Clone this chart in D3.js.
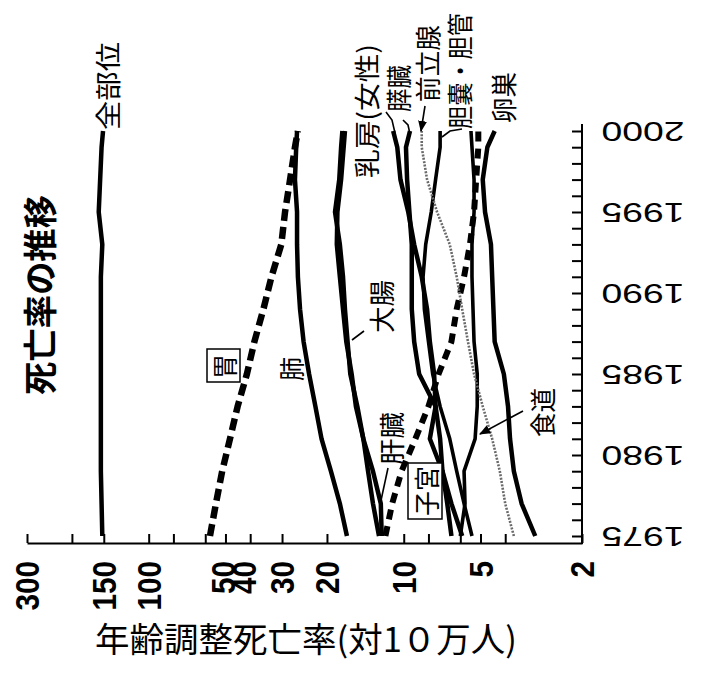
<!DOCTYPE html>
<html>
<head>
<meta charset="utf-8">
<script src="https://cdn.jsdelivr.net/npm/d3@7"></script>
<style>
  body { margin: 0; background: #fff; }
  svg { display: block; }
</style>
</head>
<body>
<div id="chart"></div>
<script>
// 年 (縦方向: 下が1975, 上が2000)
const years = [1975, 1977, 1979, 1981, 1983, 1985, 1987, 1989, 1991, 1993, 1995, 1997, 1999, 2000];

// 年齢調整死亡率 (対10万人) - 図から読み取り
const allSites    = [152, 153, 154, 154, 154, 154, 154, 154, 154, 152, 157, 155, 153, 151];
const stomach     = [57.5, 54.5, 51.5, 48, 44.8, 41.2, 38.5, 35.5, 33.0, 30.2, 29.2, 27.9, 26.7, 26.0];
const lung        = [16.7, 17.8, 19.3, 21.0, 22.2, 23.5, 24.7, 25.5, 26.0, 26.2, 26.2, 26.7, 26.4, 26.2];
const colorectal  = [12.5, 13.2, 13.8, 14.4, 15.2, 16.2, 16.6, 17.0, 17.3, 17.8, 18.6, 17.9, 17.6, 17.4];
const liver       = [12.2, 12.3, 13.2, 14.4, 15.4, 16.0, 16.8, 17.3, 17.8, 18.3, 18.2, 17.6, 17.2, 17.0];
const uterus      = [11.8, 11.1, 10.2, 9.0, 8.0, 7.3, 6.5, 6.2, 5.8, 5.5, 5.3, 5.2, 5.1, 5.1];
const breast      = [5.9, 6.5, 7.05, 7.9, 7.5, 7.6, 7.9, 8.1, 8.5, 9.1, 9.6, 10.3, 10.6, 11.0];
const pancreas    = [6.5, 6.75, 7.05, 7.2, 7.5, 8.7, 9.1, 9.3, 9.3, 9.3, 9.5, 9.7, 9.8, 9.45];
const gallbladder = [5.4, 5.8, 6.2, 6.6, 7.2, 7.7, 8.0, 8.3, 8.4, 8.2, 7.8, 7.5, 7.2, 7.2];
const prostate    = [3.7, 4.0, 4.2, 4.5, 4.9, 5.3, 5.6, 5.9, 6.2, 6.6, 7.4, 8.1, 8.5, 8.5];
const esophagus   = [6.0, 5.75, 5.8, 5.25, 5.15, 5.15, 5.3, 5.35, 5.4, 5.4, 5.3, 5.3, 5.4, 5.45];
const ovary       = [3.05, 3.45, 3.7, 3.83, 3.9, 4.05, 4.4, 4.45, 4.5, 4.55, 4.8, 4.9, 4.7, 4.4];

// 目盛り
const rateTicks  = [300, 200, 150, 100, 80, 60, 50, 40, 30, 20, 10, 8, 6, 5, 4, 2];
const rateLabels = [300, 150, 100, 50, 40, 30, 20, 10, 5, 2];
const yearTicks  = d3.range(1975, 2001);
const yearLabels = [1975, 1980, 1985, 1990, 1995, 2000];

const series = [
  { name: '全部位', values: allSites, kind: 'solid' },
  { name: '胃', values: stomach, kind: 'dash' },
  { name: '肺', values: lung, kind: 'solid' },
  { name: '大腸', values: colorectal, kind: 'solid' },
  { name: '肝臓', values: liver, kind: 'solid' },
  { name: '子宮', values: uterus, kind: 'dash2' },
  { name: '乳房(女性)', values: breast, kind: 'solid' },
  { name: '膵臓', values: pancreas, kind: 'solid' },
  { name: '胆嚢・胆管', values: gallbladder, kind: 'thin' },
  { name: '食道', values: esophagus, kind: 'thin' },
  { name: '卵巣', values: ovary, kind: 'solid' },
  { name: '前立腺', values: prostate, kind: 'dot' }
];

const line_styles = {
  solid: { width: 4.5, dash: null, color: '#000' },
  thin:  { width: 3.6, dash: null, color: '#000' },
  dash:  { width: 6.5, dash: '12,6', color: '#000' },
  dash2: { width: 6, dash: '10,7', color: '#000' },
  dot:   { width: 2.6, dash: '2,1.4', color: '#6a6a6a' }
};

const JP = '"Noto Sans CJK JP", "Noto Sans CJK SC", sans-serif';
const NUM = '"Liberation Sans", Arial, sans-serif';

const svg_width = 705, svg_height = 676;
const svg = d3.select('#chart').append('svg')
  .attr('width', svg_width)
  .attr('height', svg_height);

// scale: 横が死亡率(対数, 左が大), 縦が年
const x_scale = d3.scaleLog().domain([300, 2]).range([27, 582]);
const y_scale = d3.scaleLinear().domain([1975, 2000]).range([536, 131]);
const axis_y = 543;
const axis_x = 582;

// 横軸 (下)
const x_axis = svg.append('g')
  .attr('transform', `translate(0, ${axis_y})`)
  .call(d3.axisBottom(x_scale).tickValues(rateTicks).tickSize(-9).tickSizeOuter(0).tickFormat(''));
x_axis.selectAll('path, line').attr('stroke', '#000').attr('stroke-width', 2);

// 縦軸 (右)
const y_axis = svg.append('g')
  .attr('transform', `translate(${axis_x}, 0)`)
  .call(d3.axisRight(y_scale).tickValues(yearTicks).tickSize(-10).tickSizeOuter(0).tickFormat(''));
y_axis.select('.domain').remove();
y_axis.selectAll('line').attr('stroke', '#000').attr('stroke-width', 2);
svg.append('line')
  .attr('x1', axis_x).attr('x2', axis_x)
  .attr('y1', axis_y + 1).attr('y2', 124)
  .attr('stroke', '#000').attr('stroke-width', 2);

// 横軸ラベル (回転した数字)。50と40は原図で寄せて重なっている
const label_nudge = { 50: -2, 40: -6 };
const lx = d => x_scale(d) + (label_nudge[d] || 0);
svg.append('g').selectAll('text')
  .data(rateLabels)
  .enter()
  .append('text')
  .attr('x', d => lx(d))
  .attr('y', 561)
  .attr('transform', d => `rotate(-90, ${lx(d)}, 561)`)
  .attr('text-anchor', 'end')
  .attr('dominant-baseline', 'central')
  .attr('textLength', d => String(d).length * 16.5)
  .attr('lengthAdjust', 'spacingAndGlyphs')
  .style('font-family', NUM)
  .style('font-weight', 'bold')
  .style('font-size', '34px')
  .text(d => d);

// 年ラベル (180度回転)
svg.append('g').selectAll('text')
  .data(yearLabels)
  .enter()
  .append('text')
  .attr('x', 643)
  .attr('y', d => y_scale(d))
  .attr('transform', d => `rotate(180, 643, ${y_scale(d)})`)
  .attr('text-anchor', 'middle')
  .attr('dominant-baseline', 'central')
  .attr('textLength', 83)
  .attr('lengthAdjust', 'spacingAndGlyphs')
  .style('font-family', NUM)
  .style('font-size', '28px')
  .text(d => d);

// 折れ線
const line_generator = d3.line()
  .x(d => x_scale(d.v))
  .y(d => y_scale(d.yr));

svg.append('g').selectAll('path')
  .data(series)
  .enter()
  .append('path')
  .attr('d', s => line_generator(years.map((yr, i) => ({ yr: yr, v: s.values[i] }))))
  .attr('fill', 'none')
  .attr('stroke', s => line_styles[s.kind].color)
  .attr('stroke-width', s => line_styles[s.kind].width)
  .attr('stroke-dasharray', s => line_styles[s.kind].dash)
  .attr('stroke-linejoin', 'round');

// 矢印
svg.append('defs').append('marker')
  .attr('id', 'arrow')
  .attr('viewBox', '0 0 10 10')
  .attr('refX', 9).attr('refY', 5)
  .attr('markerWidth', 7).attr('markerHeight', 7)
  .attr('orient', 'auto')
  .append('path').attr('d', 'M0,1L10,5L0,9Z').attr('fill', '#000');

// 引き出し線
const leaders = [
  { pts: [[364, 331], [352, 340]], arrow: false },
  { pts: [[388, 468], [380, 505]], arrow: false },
  { pts: [[523, 411], [480, 434]], arrow: true },
  { pts: [[425, 106], [421, 131]], arrow: true },
  { pts: [[462, 129], [450, 131], [442, 137]], arrow: false },
  { pts: [[386, 112], [392, 120], [395, 133]], arrow: false },
  { pts: [[403, 120], [408, 125], [410, 134]], arrow: false }
];
svg.append('g').selectAll('path')
  .data(leaders)
  .enter()
  .append('path')
  .attr('d', d => d3.line()(d.pts))
  .attr('fill', 'none')
  .attr('stroke', '#000')
  .attr('stroke-width', 1.6)
  .attr('marker-end', d => d.arrow ? 'url(#arrow)' : null);

// 系列ラベル (縦書き風に-90度回転)
const labels = [
  { text: '全部位', cx: 106, yb: 130, len: 88 },
  { text: '乳房(女性)', cx: 365, yb: 178, len: 134 },
  { text: '膵臓', cx: 397, yb: 112, len: 47 },
  { text: '前立腺', cx: 426, yb: 102, len: 77 },
  { text: '胆嚢・胆管', cx: 458, yb: 129, len: 116 },
  { text: '卵巣', cx: 502, yb: 123, len: 51 },
  { text: '大腸', cx: 380, yb: 333, len: 53 },
  { text: '肺', cx: 290, yb: 381, len: 24 },
  { text: '肝臓', cx: 390, yb: 465, len: 53 },
  { text: '食道', cx: 541, yb: 437, len: 49 },
  { text: '胃', cx: 223, yb: 379, len: 25, box: [207, 349, 33, 33] },
  { text: '子宮', cx: 425, yb: 516, len: 50, box: [408, 463, 34, 56] }
];

const label_group = svg.append('g');
labels.filter(d => d.box).forEach(d => {
  label_group.append('rect')
    .attr('x', d.box[0]).attr('y', d.box[1])
    .attr('width', d.box[2]).attr('height', d.box[3])
    .attr('fill', '#fff')
    .attr('stroke', '#000')
    .attr('stroke-width', 1.5);
});
label_group.selectAll('text')
  .data(labels)
  .enter()
  .append('text')
  .attr('x', d => d.cx)
  .attr('y', d => d.yb)
  .attr('transform', d => `rotate(-90, ${d.cx}, ${d.yb})`)
  .attr('text-anchor', 'start')
  .attr('dominant-baseline', 'central')
  .attr('textLength', d => d.len)
  .attr('lengthAdjust', 'spacingAndGlyphs')
  .style('font-family', JP)
  .style('font-size', '26px')
  .text(d => d.text);

// タイトル
svg.append('text')
  .attr('x', 38).attr('y', 395)
  .attr('transform', 'rotate(-90, 38, 395)')
  .attr('text-anchor', 'start')
  .attr('dominant-baseline', 'central')
  .attr('textLength', 200)
  .attr('lengthAdjust', 'spacingAndGlyphs')
  .style('font-family', JP)
  .style('font-weight', 'bold')
  .style('font-size', '34px')
  .text('死亡率の推移');

// 縦軸タイトル
svg.append('text')
  .attr('x', 95).attr('y', 652)
  .attr('textLength', 422)
  .attr('lengthAdjust', 'spacingAndGlyphs')
  .style('font-family', JP)
  .style('font-size', '34px')
  .text('年齢調整死亡率(対1０万人)');
</script>
</body>
</html>
